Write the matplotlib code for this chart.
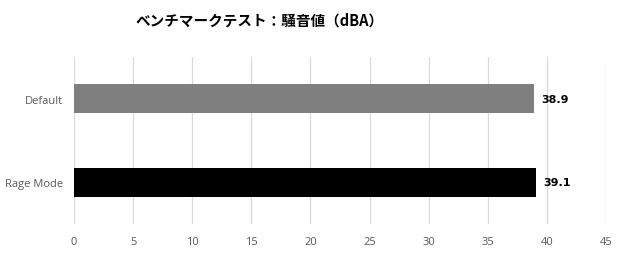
import matplotlib
matplotlib.use("Agg")
import matplotlib.pyplot as plt

categories = ["Default", "Rage Mode"]
values = [38.9, 39.1]
colors = ["#7f7f7f", "#000000"]
xticks = [0, 5, 10, 15, 20, 25, 30, 35, 40, 45]

plt.rcParams['font.family'] = ['Open Sans', 'Noto Sans CJK JP', 'DejaVu Sans']

fig = plt.figure(figsize=(6.2, 2.55), dpi=100)
ax = fig.add_axes([74 / 620, 1 - 225 / 255, (606 - 74) / 620, (225 - 58) / 255])

ypos = list(range(len(categories)))
bars = ax.barh(ypos, values, height=0.35, color=colors, zorder=3)
for b, v in zip(bars, values):
    ax.text(b.get_width() + 0.6, b.get_y() + b.get_height() / 2, f"{v:.1f}",
            va="center", ha="left", fontsize=8, fontweight="bold",
            family=["DejaVu Sans"], color="black")

ax.set_xlim(0, 45)
ax.set_ylim(1.5, -0.5)
ax.set_xticks(xticks)
ax.set_yticks(ypos)
ax.set_yticklabels(categories)
ax.tick_params(axis="both", length=0, labelsize=8, colors="#595959")
ax.tick_params(axis="x", pad=9)
ax.tick_params(axis="y", pad=8)
ax.grid(axis="x", color="#d9d9d9", linewidth=0.9, zorder=0)
for s in ax.spines.values():
    s.set_visible(False)

fig.text(260 / 620, 1 - 21 / 255, "ベンチマークテスト：騒音値（dBA）", ha="center", va="center",
         fontsize=10.5, fontweight="bold", family=["Noto Sans CJK JP", "DejaVu Sans"])

fig.savefig("out.png", dpi=100)
